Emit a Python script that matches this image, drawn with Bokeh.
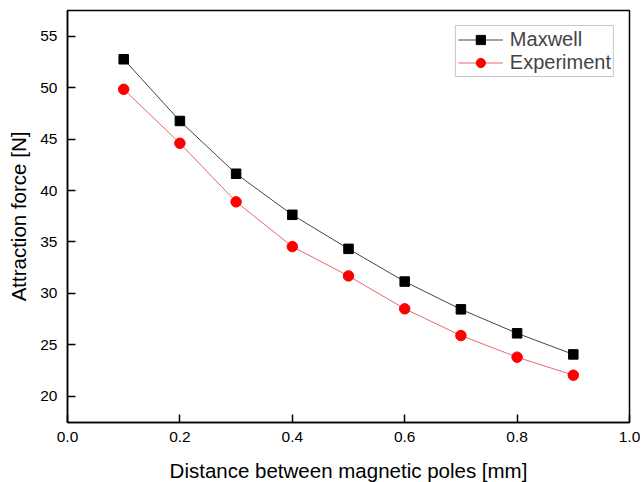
from bokeh.plotting import figure
from bokeh.models import Range1d, Legend, LegendItem, FixedTicker
from bokeh.embed import file_html
from bokeh.resources import INLINE

distance = [0.1, 0.2, 0.3, 0.4, 0.5, 0.6, 0.7, 0.8, 0.9]
maxwell = [52.76, 46.76, 41.63, 37.64, 34.33, 31.15, 28.45, 26.12, 24.07]
experiment = [49.84, 44.6, 38.9, 34.55, 31.7, 28.5, 25.9, 23.8, 22.05]
x_ticks = [0.0, 0.2, 0.4, 0.6, 0.8, 1.0]
y_ticks = [20, 25, 30, 35, 40, 45, 50, 55]

FONT = "Liberation Sans"

p = figure(frame_width=562, frame_height=412, output_backend="svg", toolbar_location=None,
           x_range=Range1d(0, 1.0), y_range=Range1d(17.45, 57.5),
           min_border_left=67, min_border_top=10, min_border_right=11, min_border_bottom=58)
p.grid.visible = False
p.background_fill_color = "white"
p.border_fill_color = "white"
p.outline_line_color = "black"
p.outline_line_width = 1.5

for ax in (p.xaxis[0], p.yaxis[0]):
    ax.axis_line_color = "black"
    ax.axis_line_width = 1.5
    ax.major_tick_in = 8
    ax.major_tick_out = 0
    ax.major_tick_line_width = 1.5
    ax.minor_tick_line_color = None
    ax.major_label_text_font = FONT
    ax.major_label_text_font_size = "15.5px"
    ax.major_label_text_color = "black"
    ax.axis_label_text_font = FONT
    ax.axis_label_text_font_size = "20.5px"
    ax.axis_label_text_font_style = "normal"
    ax.axis_label_text_color = "black"

p.xaxis[0].ticker = FixedTicker(ticks=x_ticks)
p.yaxis[0].ticker = FixedTicker(ticks=y_ticks)
p.xaxis[0].major_label_overrides = {t: f"{t:.1f}" for t in x_ticks}
p.xaxis[0].axis_label = "Distance between magnetic poles [mm]"
p.yaxis[0].axis_label = "Attraction force [N]"
p.xaxis[0].major_label_standoff = 9
p.yaxis[0].major_label_standoff = 10
p.xaxis[0].axis_label_standoff = 14
p.yaxis[0].axis_label_standoff = 7

l1 = p.line(distance, maxwell, line_color="#444444", line_width=1)
s1 = p.scatter(distance, maxwell, marker="square", size=9.5, fill_color="black", line_color="black")
l2 = p.line(distance, experiment, line_color="#e46a6a", line_width=1)
s2 = p.scatter(distance, experiment, marker="circle", size=10.5, fill_color="#ff0000", line_color="#ff0000")

legend = Legend(items=[LegendItem(label="Maxwell", renderers=[l1, s1]),
                       LegendItem(label="Experiment", renderers=[l2, s2])],
                location="top_right")
legend.label_text_font = FONT
legend.label_text_font_size = "20px"
legend.border_line_color = "#909090"
legend.border_line_width = 1
legend.margin = 15
legend.padding = 2
legend.spacing = 0
legend.glyph_width = 45
legend.glyph_height = 23
legend.label_height = 23
legend.label_standoff = 7
legend.background_fill_alpha = 1
p.add_layout(legend, "center")

open("out.html", "w").write(file_html(p, INLINE))
